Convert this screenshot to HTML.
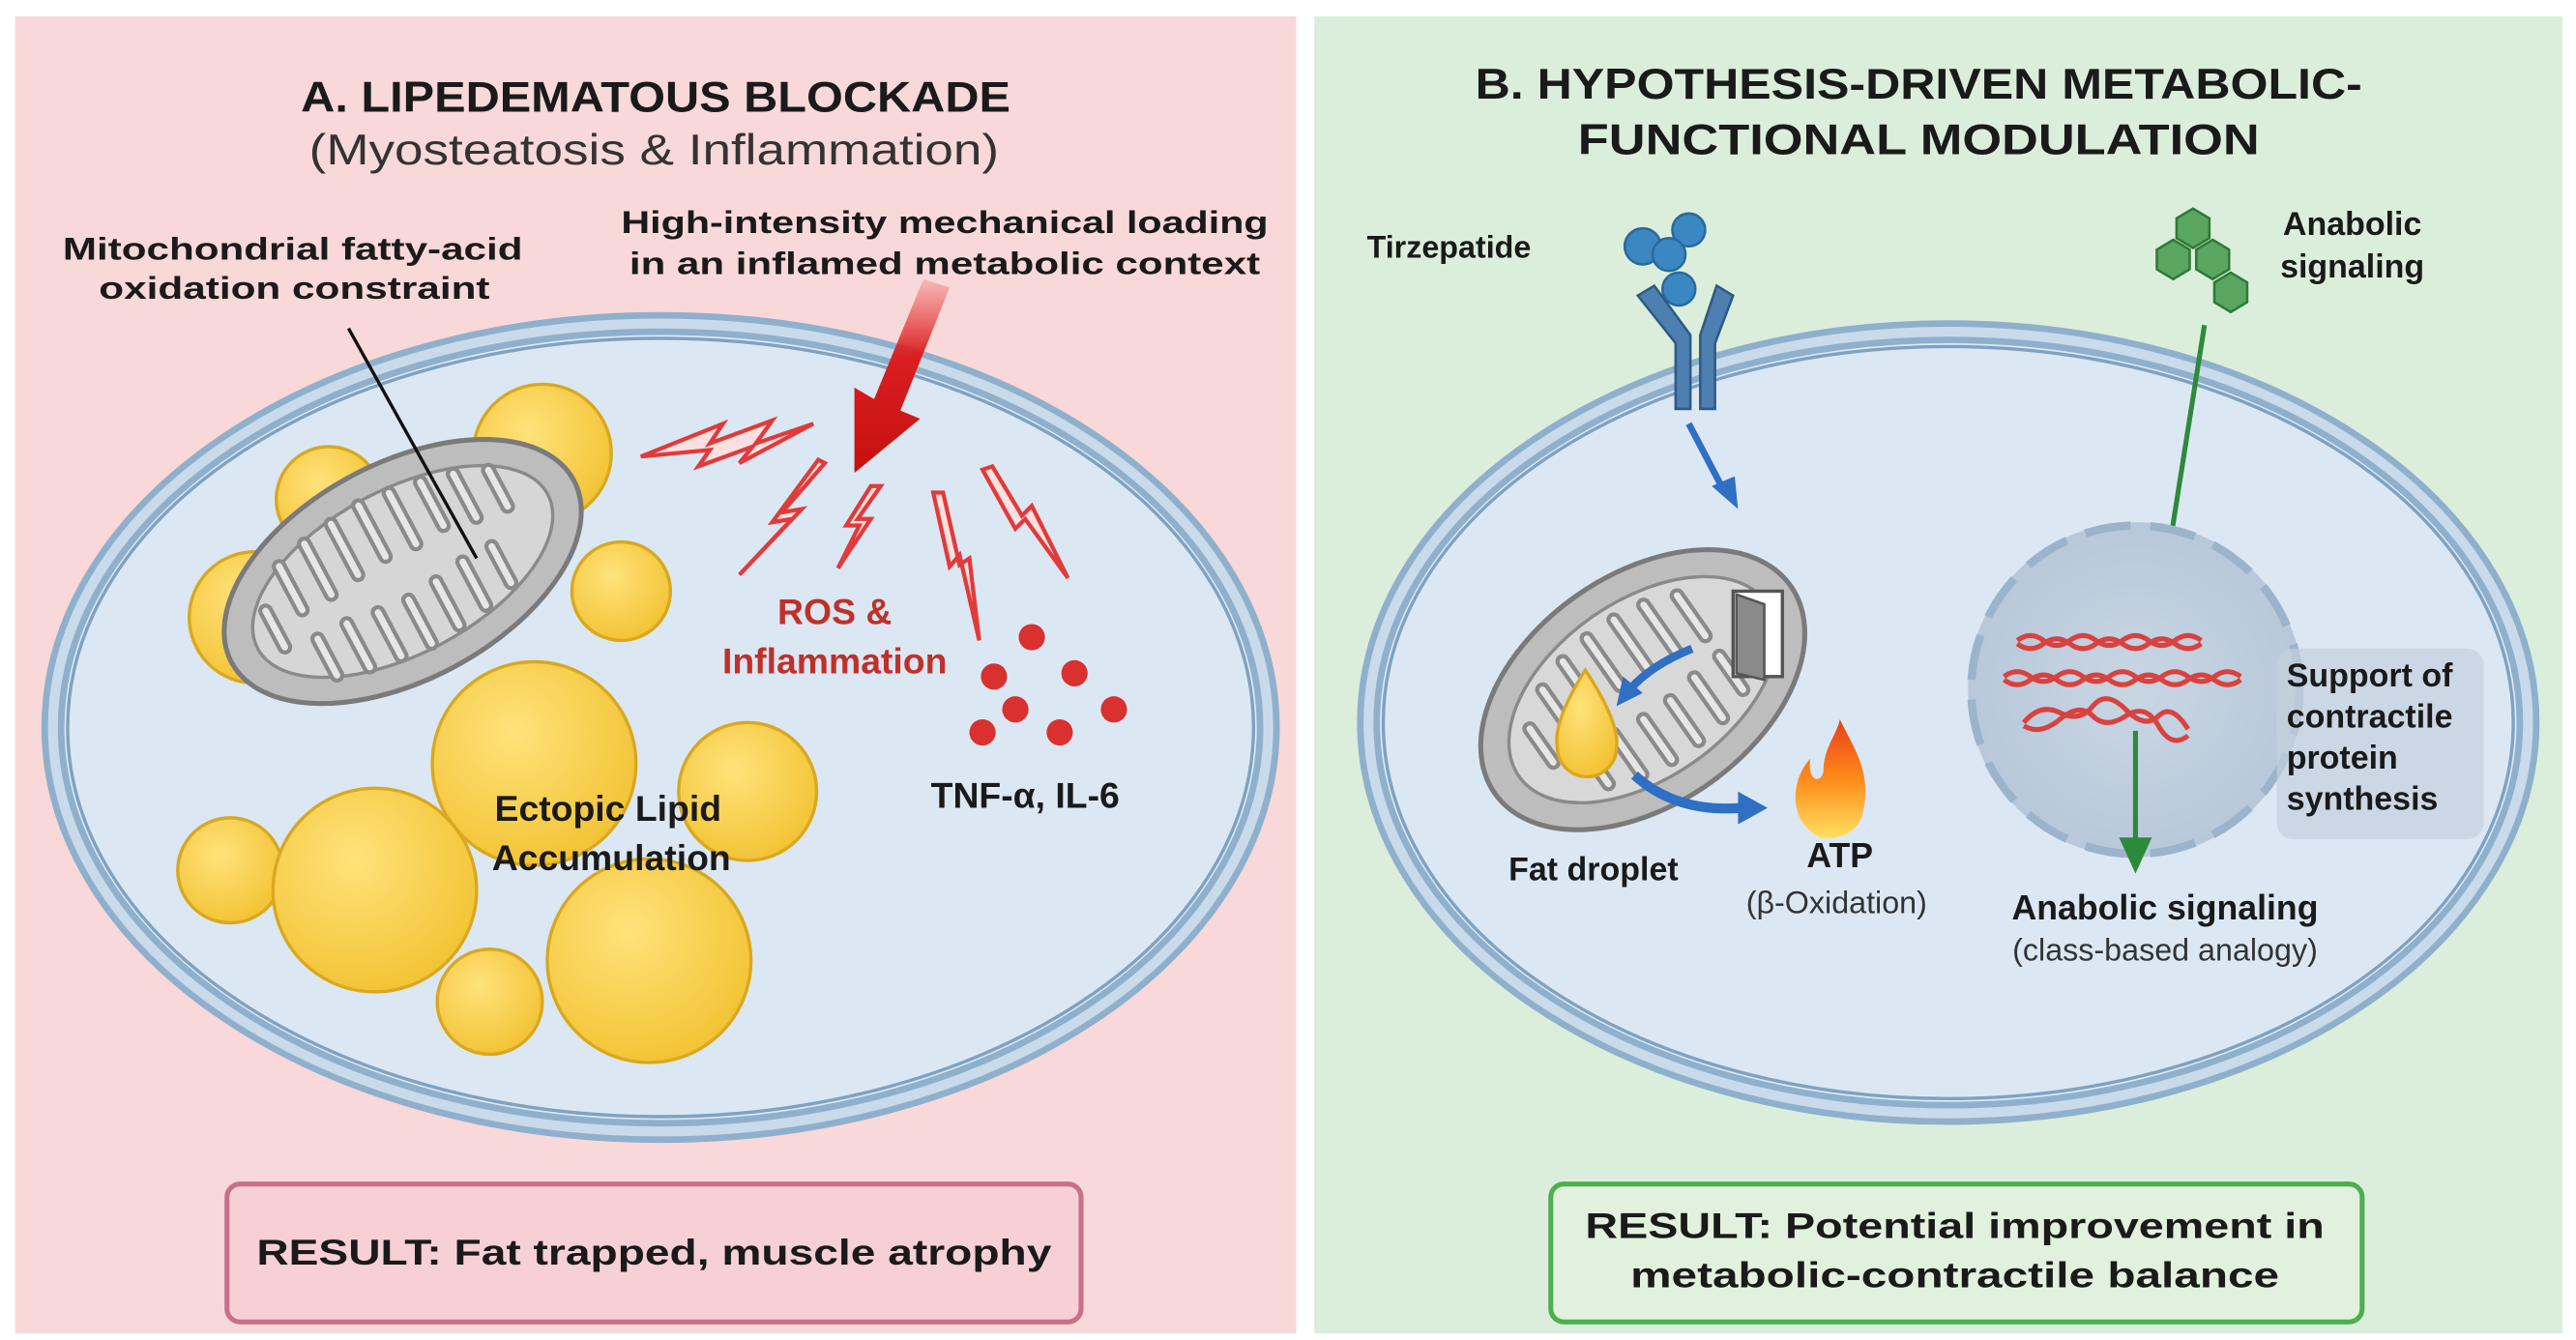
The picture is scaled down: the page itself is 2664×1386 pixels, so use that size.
<!DOCTYPE html>
<html><head><meta charset="utf-8"><style>
html,body{margin:0;padding:0;background:#fff;}
svg{display:block;}
text{font-family:"Liberation Sans",sans-serif;}
.b{font-weight:bold;fill:#1a1a1a;}
</style></head><body>
<svg width="2664" height="1386" viewBox="0 0 1568 816" xmlns="http://www.w3.org/2000/svg">
<defs>
<radialGradient id="fat" cx="0.4" cy="0.35" r="0.7"><stop offset="0" stop-color="#ffe27a"/><stop offset="1" stop-color="#f2c232"/></radialGradient>
<linearGradient id="redarr" x1="0" y1="0" x2="0" y2="1"><stop offset="0" stop-color="#e33" stop-opacity="0.2"/><stop offset="0.4" stop-color="#d91f1f"/><stop offset="1" stop-color="#c81010"/></linearGradient>
<linearGradient id="flame" x1="0" y1="1" x2="0" y2="0"><stop offset="0" stop-color="#ffe060"/><stop offset="0.5" stop-color="#ff8a1a"/><stop offset="1" stop-color="#e8401a"/></linearGradient>
<radialGradient id="nuc" cx="0.5" cy="0.5" r="0.5"><stop offset="0" stop-color="#c9d6e4"/><stop offset="1" stop-color="#b8c8da"/></radialGradient>
</defs>
<rect width="1568" height="816" fill="#fff"/>
<rect x="9" y="10" width="780" height="802" fill="#f8d8d8"/>
<rect x="800" y="10" width="760" height="802" fill="#dbeedb"/>

<!-- LEFT -->
<text x="399" y="68" text-anchor="middle" class="b" font-size="26" textLength="432" lengthAdjust="spacingAndGlyphs">A. LIPEDEMATOUS BLOCKADE</text>
<text x="398" y="100" text-anchor="middle" font-size="26" fill="#333" textLength="420" lengthAdjust="spacingAndGlyphs">(Myosteatosis &amp; Inflammation)</text>
<text x="178" y="158" text-anchor="middle" class="b" font-size="19" textLength="280" lengthAdjust="spacingAndGlyphs">Mitochondrial fatty-acid</text>
<text x="179" y="182" text-anchor="middle" class="b" font-size="19" textLength="238" lengthAdjust="spacingAndGlyphs">oxidation constraint</text>
<text x="575" y="142" text-anchor="middle" class="b" font-size="19" textLength="394" lengthAdjust="spacingAndGlyphs">High-intensity mechanical loading</text>
<text x="575" y="167" text-anchor="middle" class="b" font-size="19" textLength="384" lengthAdjust="spacingAndGlyphs">in an inflamed metabolic context</text>

<ellipse cx="402" cy="443" rx="370" ry="246" fill="#dbe8f3" stroke="#8fb0cc" stroke-width="14"/>
<ellipse cx="402" cy="443" rx="370" ry="246" fill="none" stroke="#c9dbea" stroke-width="6"/>
<ellipse cx="402" cy="443" rx="361" ry="237" fill="none" stroke="#7fa2c0" stroke-width="2"/>

<g fill="url(#fat)" stroke="#d9a820" stroke-width="2">
<circle cx="330" cy="276" r="42"/><circle cx="200" cy="304" r="32"/><circle cx="155" cy="376" r="40"/><circle cx="378" cy="360" r="30"/>
<circle cx="325" cy="465" r="62"/><circle cx="455" cy="482" r="42"/><circle cx="140" cy="530" r="32"/><circle cx="228" cy="542" r="62"/>
<circle cx="395" cy="585" r="62"/><circle cx="298" cy="610" r="32"/>
</g>
<g transform="rotate(-28 245 348)">
<ellipse cx="245" cy="348" rx="118" ry="66" fill="#bdbdbd" stroke="#7a7a7a" stroke-width="3"/>
<ellipse cx="245" cy="348" rx="100" ry="50" fill="#d6d6d6" stroke="#8a8a8a" stroke-width="2"/>
<path d="M160 330 v25 M180 310 v30 M200 305 v35 M220 302 v35 M240 300 v35 M260 302 v35 M280 305 v30 M300 310 v30 M320 318 v25 M180 385 v-25 M200 390 v-30 M220 393 v-30 M240 395 v-30 M260 393 v-30 M280 390 v-30 M300 385 v-25" stroke="#8a8a8a" stroke-width="9" stroke-linecap="round" fill="none"/>
<path d="M160 330 v25 M180 310 v30 M200 305 v35 M220 302 v35 M240 300 v35 M260 302 v35 M280 305 v30 M300 310 v30 M320 318 v25 M180 385 v-25 M200 390 v-30 M220 393 v-30 M240 395 v-30 M260 393 v-30 M280 390 v-30 M300 385 v-25" stroke="#e6e6e6" stroke-width="4" stroke-linecap="round" fill="none"/>
</g>
<line x1="212" y1="200" x2="290" y2="340" stroke="#111" stroke-width="2"/>
<text x="370" y="500" text-anchor="middle" class="b" font-size="22" fill="#333">Ectopic Lipid</text>
<text x="372" y="530" text-anchor="middle" class="b" font-size="22" fill="#333">Accumulation</text>

<path d="M578 175 L548 250 L560 255 L520 288 L520 236 L532 243 L562 170 Z" fill="url(#redarr)"/>
<g fill="#fbe0e0" stroke="#e23a3a" stroke-width="2.5" stroke-linejoin="miter">
<path d="M390 278 L440 258 L432 270 L470 256 L460 270 L495 258 L450 282 L458 272 L425 284 L432 274 Z"/>
<path d="M498 280 L470 318 L482 316 L450 350 L488 310 L476 312 L502 282 Z"/>
<path d="M530 296 L515 320 L523 320 L510 346 L530 316 L522 316 L536 296 Z"/>
<path d="M568 300 L578 345 L584 338 L596 390 L590 340 L584 344 L574 300 Z"/>
<path d="M598 286 L618 322 L624 316 L650 352 L628 308 L622 314 L604 284 Z"/>
</g>
<text x="508" y="380" text-anchor="middle" font-size="22" font-weight="bold" fill="#c0302a">ROS &amp;</text>
<text x="508" y="410" text-anchor="middle" font-size="22" font-weight="bold" fill="#c0302a">Inflammation</text>
<g fill="#d93030"><circle cx="628" cy="388" r="8"/><circle cx="605" cy="412" r="8"/><circle cx="654" cy="410" r="8"/><circle cx="618" cy="432" r="8"/><circle cx="678" cy="432" r="8"/><circle cx="645" cy="446" r="8"/><circle cx="598" cy="446" r="8"/></g>
<text x="624" y="492" text-anchor="middle" class="b" font-size="22">TNF-α, IL-6</text>

<rect x="138" y="721" width="520" height="84" rx="8" fill="#f7d0d6" stroke="#c8708a" stroke-width="3"/>
<text x="398" y="770" text-anchor="middle" class="b" font-size="22" textLength="484" lengthAdjust="spacingAndGlyphs">RESULT: Fat trapped, muscle atrophy</text>

<!-- RIGHT -->
<text x="1168" y="60" text-anchor="middle" class="b" font-size="26" textLength="540" lengthAdjust="spacingAndGlyphs">B. HYPOTHESIS-DRIVEN METABOLIC-</text>
<text x="1168" y="94" text-anchor="middle" class="b" font-size="26" textLength="415" lengthAdjust="spacingAndGlyphs">FUNCTIONAL MODULATION</text>

<ellipse cx="1186" cy="440" rx="353" ry="238" fill="#dbe8f3" stroke="#8fb0cc" stroke-width="14"/>
<ellipse cx="1186" cy="440" rx="353" ry="238" fill="none" stroke="#c9dbea" stroke-width="6"/>
<ellipse cx="1186" cy="440" rx="344" ry="229" fill="none" stroke="#7fa2c0" stroke-width="2"/>

<text x="882" y="157" text-anchor="middle" class="b" font-size="19">Tirzepatide</text>
<g fill="#3a87c2" stroke="#2a6a9a" stroke-width="1.5">
<circle cx="1000" cy="150" r="11"/><circle cx="1028" cy="140" r="10"/><circle cx="1022" cy="176" r="10"/><circle cx="1016" cy="155" r="10"/>
</g>
<g fill="#4d7fb0" stroke="#2e5a85" stroke-width="1.5">
<path d="M997 180 l10 -6 l22 30 l0 45 l-9 0 l0 -40 Z"/>
<path d="M1055 180 l-10 -6 l-10 30 l0 45 l9 0 l0 -40 Z"/>
</g>
<path d="M1028 258 L1050 300" stroke="#2f6fc4" stroke-width="4"/>
<path d="M1042 296 L1058 310 L1056 290 Z" fill="#2f6fc4"/>

<g transform="rotate(-35 1000 420)">
<ellipse cx="1000" cy="420" rx="110" ry="70" fill="#bdbdbd" stroke="#7a7a7a" stroke-width="3"/>
<ellipse cx="1000" cy="420" rx="92" ry="54" fill="#d8d8d8" stroke="#8a8a8a" stroke-width="2"/>
<path d="M930 400 v25 M950 385 v30 M970 378 v35 M990 375 v35 M1010 375 v35 M1030 378 v35 M1050 385 v30 M950 455 v-25 M970 462 v-30 M990 465 v-30 M1010 465 v-30 M1030 462 v-30 M1050 455 v-25" stroke="#8a8a8a" stroke-width="9" stroke-linecap="round" fill="none"/>
<path d="M930 400 v25 M950 385 v30 M970 378 v35 M990 375 v35 M1010 375 v35 M1030 378 v35 M1050 385 v30 M950 455 v-25 M970 462 v-30 M990 465 v-30 M1010 465 v-30 M1030 462 v-30 M1050 455 v-25" stroke="#e6e6e6" stroke-width="4" stroke-linecap="round" fill="none"/>
</g>
<rect x="1055" y="360" width="30" height="52" fill="#fff" stroke="#555" stroke-width="2"/>
<path d="M1057 362 L1074 368 L1074 414 L1057 410 Z" fill="#8a8a8a" stroke="#555" stroke-width="1.5"/>
<path d="M965 408 Q945 440 948 455 A18 18 0 0 0 984 455 Q986 440 965 408 Z" fill="url(#fat)" stroke="#d9a820" stroke-width="2"/>
<path d="M1030 395 Q1005 405 992 420" stroke="#2f6fc4" stroke-width="5" fill="none"/>
<path d="M984 430 L988 412 L1000 422 Z" fill="#2f6fc4"/>
<path d="M995 472 Q1020 495 1060 492" stroke="#2f6fc4" stroke-width="6" fill="none"/>
<path d="M1058 482 L1076 492 L1058 502 Z" fill="#2f6fc4"/>
<path d="M1108 510 C1088 500 1090 475 1102 462 C1100 475 1108 478 1110 470 C1110 455 1118 448 1120 438 C1128 455 1140 470 1134 495 C1132 505 1122 512 1108 510 Z" fill="url(#flame)"/>
<text x="970" y="536" text-anchor="middle" class="b" font-size="20" fill="#222">Fat droplet</text>
<text x="1120" y="528" text-anchor="middle" class="b" font-size="21" fill="#222">ATP</text>
<text x="1118" y="556" text-anchor="middle" font-size="19" fill="#333">(β-Oxidation)</text>

<g fill="#5aa660" stroke="#2f7a36" stroke-width="1.5">
<polygon points="1325,133 1335,127 1345,133 1345,145 1335,151 1325,145"/>
<polygon points="1313,152 1323,146 1333,152 1333,164 1323,170 1313,164"/>
<polygon points="1337,152 1347,146 1357,152 1357,164 1347,170 1337,164"/>
<polygon points="1348,172 1358,166 1368,172 1368,184 1358,190 1348,184"/>
</g>
<text x="1432" y="143" text-anchor="middle" class="b" font-size="20">Anabolic</text>
<text x="1432" y="169" text-anchor="middle" class="b" font-size="20">signaling</text>
<line x1="1342" y1="198" x2="1318" y2="350" stroke="#2d8a3a" stroke-width="3"/>
<path d="M1308 344 L1316 366 L1326 346 Z" fill="#2d8a3a"/>

<circle cx="1300" cy="420" r="102" fill="url(#nuc)"/>
<circle cx="1300" cy="420" r="100" fill="none" stroke="#9bb4cc" stroke-width="5" stroke-dasharray="28 12"/>
<g stroke="#d9423e" stroke-width="3" fill="none">
<path d="M1228 390 q8 -6 16 0 t16 0 t16 0 t16 0 t16 0 t16 0 t16 0"/>
<path d="M1228 392 q8 6 16 0 t16 0 t16 0 t16 0 t16 0 t16 0 t16 0"/>
<path d="M1220 412 q8 -6 16 0 t16 0 t16 0 t16 0 t16 0 t16 0 t16 0 t16 0 t16 0"/>
<path d="M1220 414 q8 6 16 0 t16 0 t16 0 t16 0 t16 0 t16 0 t16 0 t16 0 t16 0"/>
<path d="M1232 440 q10 -12 22 -6 t20 -4 t20 2 t20 4 t18 8"/>
<path d="M1232 442 q10 6 22 -4 t20 -2 t20 0 t20 6 t18 6"/>
</g>
<rect x="1386" y="395" width="126" height="116" rx="10" fill="#c5d0dd" opacity="0.7"/>
<text x="1392" y="418" class="b" font-size="20">Support of</text>
<text x="1392" y="443" class="b" font-size="20">contractile</text>
<text x="1392" y="468" class="b" font-size="20">protein</text>
<text x="1392" y="493" class="b" font-size="20">synthesis</text>
<line x1="1300" y1="445" x2="1300" y2="515" stroke="#2d8a3a" stroke-width="3"/>
<path d="M1290 510 L1300 532 L1310 510 Z" fill="#2d8a3a"/>
<text x="1318" y="560" text-anchor="middle" class="b" font-size="21">Anabolic signaling</text>
<text x="1318" y="585" text-anchor="middle" font-size="19" fill="#333">(class-based analogy)</text>

<rect x="944" y="721" width="494" height="84" rx="8" fill="#e1f1dd" stroke="#4daf4f" stroke-width="3"/>
<text x="1190" y="754" text-anchor="middle" class="b" font-size="22" textLength="450" lengthAdjust="spacingAndGlyphs">RESULT: Potential improvement in</text>
<text x="1190" y="784" text-anchor="middle" class="b" font-size="22" textLength="395" lengthAdjust="spacingAndGlyphs">metabolic-contractile balance</text>
</svg>
</body></html>
